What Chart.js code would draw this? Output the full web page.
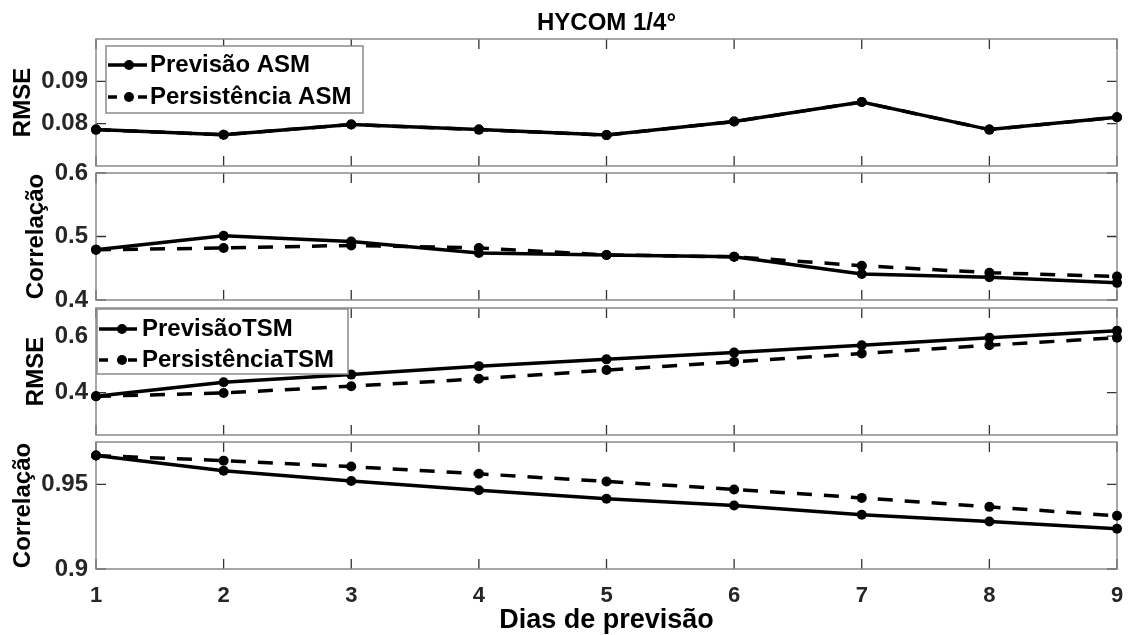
<!DOCTYPE html>
<html>
<head>
<meta charset="utf-8">
<script src="https://cdn.jsdelivr.net/npm/chart.js@4.4.1/dist/chart.umd.min.js"></script>
<style>
  body { margin: 0; background: #fff; }
  #wrap { position: relative; width: 1131px; height: 635px; }
  #wrap canvas { position: absolute; left: 0; }
</style>
</head>
<body>
<div id="wrap">
  <canvas id="c1" width="1131" height="175" style="top:0px"></canvas>
  <canvas id="c2" width="1131" height="175" style="top:150px"></canvas>
  <canvas id="c3" width="1131" height="175" style="top:285px"></canvas>
  <canvas id="c4" width="1131" height="215" style="top:420px"></canvas>
</div>
<script>
// dias de previsão
const dias = [1, 2, 3, 4, 5, 6, 7, 8, 9];

// ASM
const rmseAsmPrev = [0.0786, 0.0774, 0.0798, 0.0786, 0.0773, 0.0805, 0.0851, 0.0786, 0.0815];
const rmseAsmPers = [0.0786, 0.0774, 0.0798, 0.0786, 0.0773, 0.0805, 0.0851, 0.0786, 0.0815];
const corrAsmPrev = [0.479, 0.501, 0.492, 0.474, 0.471, 0.468, 0.441, 0.436, 0.427];
const corrAsmPers = [0.479, 0.482, 0.486, 0.482, 0.471, 0.468, 0.454, 0.443, 0.437];

// TSM
const rmseTsmPrev = [0.387, 0.437, 0.464, 0.494, 0.518, 0.542, 0.568, 0.595, 0.619];
const rmseTsmPers = [0.387, 0.399, 0.423, 0.449, 0.480, 0.509, 0.539, 0.568, 0.595];
const corrTsmPrev = [0.967, 0.958, 0.952, 0.9465, 0.9415, 0.9375, 0.932, 0.928, 0.9238];
const corrTsmPers = [0.967, 0.964, 0.9605, 0.9562, 0.9517, 0.947, 0.942, 0.9367, 0.9314];

// ticks do eixo y
const ticksRmseAsm = [0.08, 0.09];
const ticksCorrAsm = [0.4, 0.5, 0.6];
const ticksRmseTsm = [0.4, 0.6];
const ticksCorrTsm = [0.9, 0.95];

Chart.defaults.font.family = "'Liberation Sans', Arial, sans-serif";

// caixa estilo MATLAB com ticks para dentro
const caixa = {
  id: 'caixa',
  beforeDatasetsDraw(chart) {
    const { ctx, chartArea: a, scales } = chart;
    ctx.save();
    ctx.strokeStyle = '#333';
    ctx.lineWidth = 1.3;
    ctx.beginPath();
    dias.forEach(d => {
      const px = scales.x.getPixelForValue(d);
      ctx.moveTo(px, a.top); ctx.lineTo(px, a.top + 10);
      ctx.moveTo(px, a.bottom); ctx.lineTo(px, a.bottom - 10);
    });
    scales.y.ticks.forEach(t => {
      const py = scales.y.getPixelForValue(t.value);
      ctx.moveTo(a.left, py); ctx.lineTo(a.left + 10, py);
      ctx.moveTo(a.right, py); ctx.lineTo(a.right - 10, py);
    });
    ctx.stroke();
    ctx.strokeStyle = '#8a8a8a';
    ctx.lineWidth = 1.5;
    ctx.strokeRect(a.left, a.top, a.right - a.left, a.bottom - a.top);
    ctx.restore();
  }
};

// legenda dentro do painel
const legendaCaixa = {
  id: 'legendaCaixa',
  afterDatasetsDraw(chart, args, opts) {
    if (!opts.box) return;
    const { ctx, chartArea: a } = chart;
    const b = opts.box;
    const x0 = a.left + b.dx, y0 = a.top + b.dy;
    ctx.save();
    ctx.fillStyle = '#fff';
    ctx.fillRect(x0, y0, b.w, b.h);
    ctx.strokeStyle = '#8a8a8a';
    ctx.lineWidth = 1.5;
    ctx.strokeRect(x0, y0, b.w, b.h);
    chart.data.datasets.forEach((ds, i) => {
      const y = y0 + b.rows[i];
      ctx.strokeStyle = '#000';
      ctx.lineWidth = 3.5;
      ctx.beginPath();
      if (ds.borderDash && ds.borderDash.length) {
        ctx.moveTo(x0 + b.l1, y); ctx.lineTo(x0 + b.l1 + 9, y);
        ctx.moveTo(x0 + b.l2 - 9, y); ctx.lineTo(x0 + b.l2, y);
      } else {
        ctx.moveTo(x0 + b.l1, y); ctx.lineTo(x0 + b.l2, y);
      }
      ctx.stroke();
      ctx.fillStyle = '#000';
      ctx.beginPath();
      ctx.arc(x0 + b.mk, y, 5, 0, Math.PI * 2);
      ctx.fill();
      ctx.font = "bold 24px 'Liberation Sans', Arial, sans-serif";
      ctx.textBaseline = 'middle';
      ctx.textAlign = 'left';
      ctx.fillText(ds.label, x0 + b.tx, y);
    });
    ctx.restore();
  }
};

function serie(label, valores, tracejada) {
  return {
    label: label,
    data: dias.map((d, i) => ({ x: d, y: valores[i] })),
    borderColor: '#000',
    backgroundColor: '#000',
    borderWidth: 3.5,
    borderDash: tracejada ? [15, 12] : [],
    pointRadius: 5,
    pointBorderWidth: 0,
    pointBackgroundColor: '#000',
    tension: 0,
    fill: false,
    clip: false
  };
}

function painel(id, o) {
  new Chart(document.getElementById(id), {
    type: 'line',
    data: {
      datasets: [
        serie(o.nomes[0], o.prev, false),
        serie(o.nomes[1], o.pers, true)
      ]
    },
    plugins: [caixa, legendaCaixa],
    options: {
      responsive: false,
      animation: false,
      events: [],
      layout: { padding: { top: o.padTop, bottom: o.padBottom, left: 0, right: 14 } },
      plugins: {
        legend: { display: false },
        tooltip: { enabled: false },
        title: {
          display: !!o.titulo,
          text: o.titulo || '',
          fullSize: false,
          color: '#000',
          font: { size: 24, weight: 'bold', lineHeight: 1 },
          padding: { top: 11, bottom: 4 }
        },
        legendaCaixa: { box: o.legenda }
      },
      scales: {
        x: {
          type: 'linear',
          min: 1,
          max: 9,
          display: o.mostraX,
          grid: { display: false, drawTicks: false },
          border: { display: false },
          ticks: {
            stepSize: 1,
            padding: 14,
            autoSkip: false,
            maxRotation: 0,
            color: '#262626',
            font: { size: 22, weight: 'bold' }
          },
          title: {
            display: o.mostraX,
            text: 'Dias de previsão',
            color: '#000',
            font: { size: 27, weight: 'bold', lineHeight: 1.1 },
            padding: 0
          },
          afterFit(s) {
            if (!o.mostraX) return;
            s.height = 66; s.paddingLeft = 0; s.paddingRight = 0;
          }
        },
        y: {
          min: o.min,
          max: o.max,
          grid: { display: false, drawTicks: false },
          border: { display: false },
          afterBuildTicks(s) { s.ticks = o.ticks.map(v => ({ value: v })); },
          ticks: {
            padding: 8,
            color: '#262626',
            font: { size: 24, weight: 'bold' },
            callback: v => String(+v.toFixed(3))
          },
          title: {
            display: true,
            text: o.tituloY,
            color: '#000',
            font: { size: 24, weight: 'bold' },
            padding: { top: o.padTitulo, bottom: 0 }
          },
          afterFit(s) { s.width = 96; s.paddingTop = 0; s.paddingBottom = 0; }
        }
      }
    }
  });
}

painel('c1', {
  titulo: 'HYCOM 1/4°', tituloY: 'RMSE', padTitulo: 8.6,
  nomes: ['Previsão ASM', 'Persistência ASM'],
  prev: rmseAsmPrev, pers: rmseAsmPers,
  min: 0.07, max: 0.1, ticks: ticksRmseAsm,
  padTop: 0, padBottom: 9, mostraX: false,
  legenda: { dx: 10, dy: 7, w: 257, h: 67, rows: [19, 51], l1: 2, l2: 41, mk: 23, tx: 44 }
});

painel('c2', {
  tituloY: 'Correlação', padTitulo: 21.6,
  nomes: ['Previsão ASM', 'Persistência ASM'],
  prev: corrAsmPrev, pers: corrAsmPers,
  min: 0.4, max: 0.6, ticks: ticksCorrAsm,
  padTop: 23, padBottom: 25, mostraX: false,
  legenda: null
});

painel('c3', {
  tituloY: 'RMSE', padTitulo: 21.6,
  nomes: ['PrevisãoTSM', 'PersistênciaTSM'],
  prev: rmseTsmPrev, pers: rmseTsmPers,
  min: 0.25, max: 0.7, ticks: ticksRmseTsm,
  padTop: 23, padBottom: 25, mostraX: false,
  legenda: { dx: 1, dy: 1, w: 251, h: 65, rows: [20, 51], l1: 2, l2: 40, mk: 25, tx: 45 }
});

painel('c4', {
  tituloY: 'Correlação', padTitulo: 8.6,
  nomes: ['PrevisãoTSM', 'PersistênciaTSM'],
  prev: corrTsmPrev, pers: corrTsmPers,
  min: 0.9, max: 0.975, ticks: ticksCorrTsm,
  padTop: 22, padBottom: 0, mostraX: true,
  legenda: null
});
</script>
</body>
</html>
